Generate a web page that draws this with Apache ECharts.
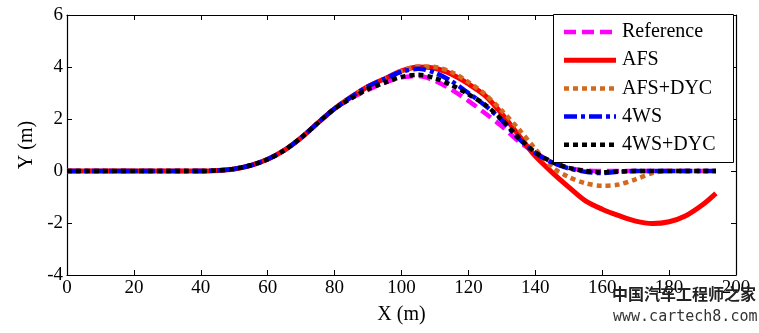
<!DOCTYPE html>
<html>
<head>
<meta charset="utf-8">
<script src="https://cdn.jsdelivr.net/npm/echarts@6/dist/echarts.min.js"></script>
<style>html,body{margin:0;padding:0;background:#fff}#c{width:759px;height:333px}</style>
</head>
<body>
<div id="c"></div>
<script>
var xs = [0,5,10,15,20,25,30,35,40,45,50,55,60,65,70,75,80,85,90,95,100,105,110,115,120,125,130,135,140,145,150,155,160,165,170,175,180,185,190,194];
var rise = [0,0,0,0,0,0,0,0,0,0.02,0.08,0.22,0.45,0.8,1.28,1.85,2.4];
var refY  = rise.concat([2.8,3.12,3.4,3.6,3.65,3.47,3.12,2.7,2.22,1.72,1.15,0.7,0.35,0.12,0.02,0,0,0,0,0,0,0,0]);
var afsY  = rise.concat([2.85,3.25,3.55,3.85,4.0,3.95,3.72,3.35,2.9,2.2,1.38,0.57,-0.05,-0.62,-1.15,-1.47,-1.72,-1.93,-2.02,-1.95,-1.72,-1.3,-0.86]);
var afsDycY = rise.concat([2.85,3.25,3.55,3.85,4.02,4.0,3.8,3.42,2.95,2.32,1.62,0.85,0.15,-0.23,-0.47,-0.57,-0.52,-0.32,-0.08,0,0,0,0]);
var ws4Y  = rise.concat([2.85,3.25,3.55,3.82,3.93,3.78,3.45,3.0,2.52,1.95,1.25,0.7,0.33,0.1,-0.03,-0.08,-0.03,0,0,0,0,0,0]);
var ws4DycY = rise.concat([2.8,3.15,3.4,3.62,3.7,3.57,3.3,2.95,2.55,1.98,1.28,0.72,0.35,0.12,0,-0.05,-0.02,0,0,0,0,0,0]);
var names = ['Reference','AFS','AFS+DYC','4WS','4WS+DYC'];
var colors = ['#ff00ff','#ff0000','#d2691e','#0000ff','#000000'];
var dashes = [[12,6],null,[5,4],[13,4,4,4],[5,4]];
var widths = [4.5,5,4.5,4.5,4.5];

function pairs(ys){ return xs.map(function(x,i){ return [x, ys[i]]; }); }
var font = 'Liberation Serif';
var chart = echarts.init(document.getElementById('c'), null, {renderer:'canvas'});
var axisCommon = {
  axisLine:{show:true, onZero:false, lineStyle:{color:'#000', width:1.2}},
  axisTick:{show:true, inside:true, length:5, lineStyle:{color:'#000', width:1}},
  splitLine:{show:false}
};
function mkSeries(i, ys){
  return {name:names[i], type:'line', data:pairs(ys), smooth:0.3, showSymbol:false, symbol:'none', z:2+i,
    lineStyle:{color:colors[i], width:widths[i], type:dashes[i] || 'solid', cap:'butt'}, itemStyle:{color:colors[i]}};
}
// legend drawn as graphic (box, sample lines, labels)
var legendItems = [{type:'rect', shape:{x:553.5, y:14.5, width:180, height:148}, style:{fill:'#fff', stroke:'#000', lineWidth:1}, z:100}];
names.forEach(function(n, i){
  var cy = 32 + i * 28.2;
  legendItems.push({type:'line', shape:{x1:564, y1:cy, x2:616, y2:cy},
    style:{stroke:colors[i], lineWidth:widths[i], lineDash:dashes[i], lineCap:'butt'}, z:101});
  legendItems.push({type:'text', x:622, y:cy, style:{text:n, font:'20px "Liberation Serif"', fill:'#000', verticalAlign:'middle'}, z:101});
});
chart.setOption({
  animation:false,
  grid:{left:67, right:23, top:15, bottom:58},
  xAxis:[
    Object.assign({type:'value', min:0, max:200, interval:20, position:'bottom',
      name:'X (m)', nameLocation:'middle', nameGap:30,
      nameTextStyle:{fontFamily:font, fontSize:20, color:'#000'},
      axisLabel:{fontFamily:font, fontSize:19, color:'#000', margin:4}}, axisCommon),
    Object.assign({type:'value', min:0, max:200, interval:20, position:'top', axisLabel:{show:false}}, axisCommon)
  ],
  yAxis:[
    Object.assign({type:'value', min:-4, max:6, interval:2, position:'left',
      name:'Y (m)', nameLocation:'middle', nameGap:30, nameRotate:90,
      nameTextStyle:{fontFamily:font, fontSize:20, color:'#000'},
      axisLabel:{fontFamily:font, fontSize:19, color:'#000', margin:4}}, axisCommon),
    Object.assign({type:'value', min:-4, max:6, interval:2, position:'right', axisLabel:{show:false}}, axisCommon)
  ],
  series:[
    mkSeries(0, refY),
    mkSeries(1, afsY),
    mkSeries(2, afsDycY),
    mkSeries(3, ws4Y),
    mkSeries(4, ws4DycY)
  ],
  graphic:legendItems.concat([
    {type:'text', x:612, y:286, style:{text:'中国汽车工程师之家', font:'bold 16px "Noto Sans CJK SC"', fill:'#222'}, z:110},
    {type:'text', x:613, y:310, style:{text:'www.cartech8.com', font:'15px "DejaVu Sans Mono"', fill:'#333'}, z:110}
  ])
});
</script>
</body>
</html>
